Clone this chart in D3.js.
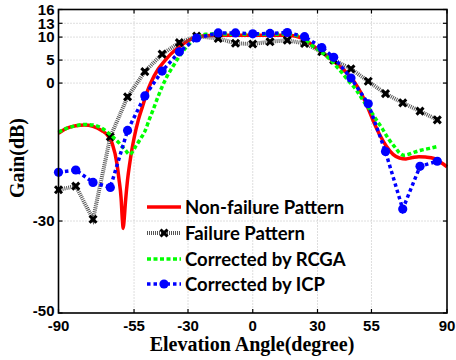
<!DOCTYPE html>
<html><head><meta charset="utf-8">
<script src="https://cdn.jsdelivr.net/npm/d3@7"></script>
<style>body{margin:0;background:#fff}svg{display:block}</style>
</head><body>
<svg id="c" width="456" height="360"></svg>
<script>
const xTicks = [-90,-55,-30,0,30,55,90];
const yTicks = [-50,-30,0,5,10,13,16];

// Non-failure pattern (red)
const redX = [-90,-86,-82,-78,-74,-70,-67,-65,-63,-62,-61,-60.4,-60,-59.6,-59,-58,-57,-56,-55,-53,-51,-49,-47,-44,-41,-38,-34,-30,-26,-22,-16,-10,0,10,16,20,24,28,32,36,40,44,47,50,53,56,59,62,65,68,71,74,77,80,84,87,90];
const redY = [-10.9,-9.8,-9.3,-9.1,-9.4,-10.3,-11.5,-13.3,-17.3,-20.8,-25,-29.8,-31.6,-29.8,-26,-21,-17.5,-14.5,-12,-8,-5,-2,0.3,2.9,4.7,6.3,7.9,9.2,10,10.3,10.4,10.4,10.4,10.4,10.4,10.2,9.5,8.1,6.7,5.3,3.8,2.0,0.3,-2.0,-5.0,-8.4,-11.4,-13.8,-15.5,-16.3,-16.5,-16.2,-16.0,-16.1,-16.4,-17.2,-18.2];

// Shared marker positions (failure / ICP)
const mkX = [-90,-82,-74,-66,-58,-50,-42,-34,-26,-16,-8,0,8,16,24,32,37.5,45.5,53.5,61.5,69.5,77.5,85.5];
// Failure pattern (black)
const failY = [-23.2,-22.4,-29.6,-11.7,-3.0,2.5,6.3,8.8,10.2,9.7,8.65,8.5,9.0,9.3,8.6,6.8,5.0,3.1,0.4,-2.3,-4.3,-6.1,-8.0];
// Corrected by ICP (blue)
const icpY = [-19.4,-18.9,-21.6,-22.7,-10.3,-2.8,2.6,6.8,9.8,10.9,10.9,10.7,10.8,11.0,10.1,7.7,5.6,1.1,-4.5,-14.9,-27.4,-18.1,-17.0];

// Corrected by RCGA (green)
const gaX = [-90,-86,-82,-78,-74,-70,-66,-62,-59,-57,-54,-52,-50,-48,-46,-44,-42,-40,-37,-34,-31,-28,-25,-22,-16,-8,0,8,16,20,24,28,32,36,40,44,48,51,54,57,60,63,66,68,70,72,75,78,82,85.5];
const gaY = [-10.7,-9.8,-9.3,-9.0,-9.1,-9.8,-11.2,-13.0,-14.6,-15.5,-13.6,-12.1,-10.5,-8.0,-5.6,-3.1,-0.8,1.2,3.6,5.8,7.7,9.1,10.1,10.6,10.7,10.6,10.6,10.6,10.7,10.4,9.6,8.0,6.7,5.0,3.0,0.7,-1.5,-3.7,-5.6,-7.8,-9.9,-12.2,-14.0,-15.2,-15.7,-15.5,-15.0,-14.6,-14.2,-13.8];

const legendLabels = ["Non-failure Pattern","Failure Pattern","Corrected by RCGA","Corrected by ICP"];

const svg = d3.select("#c");
const L=58.5, R=447, T=9.5, B=313;
const x = d3.scaleLinear().domain([-90,90]).range([L,R]);
const y = d3.scaleLinear().domain([-50,16]).range([B,T]);

// grid
const g = svg.append("g");
g.selectAll(".gx").data(xTicks.filter(d=>d>-90&&d<90)).join("line")
  .attr("x1",d=>x(d)).attr("x2",d=>x(d)).attr("y1",T).attr("y2",B)
  .attr("stroke","#bdbdbd").attr("stroke-width",1).attr("stroke-dasharray","1,2");
g.selectAll(".gy").data(yTicks.filter(d=>d>-50&&d<16)).join("line")
  .attr("y1",d=>y(d)).attr("y2",d=>y(d)).attr("x1",L).attr("x2",R)
  .attr("stroke","#bdbdbd").attr("stroke-width",1).attr("stroke-dasharray","1,2");

// curves
const smooth = d3.line().x(d=>x(d[0])).y(d=>y(d[1])).curve(d3.curveMonotoneX);
const lin = d3.line().x(d=>x(d[0])).y(d=>y(d[1]));
const redPts = redX.map((v,i)=>[v,redY[i]]);
const failPts = mkX.map((v,i)=>[v,failY[i]]);
const gaPts = gaX.map((v,i)=>[v,gaY[i]]);
const icpPts = mkX.map((v,i)=>[v,icpY[i]]);

const plot = svg.append("g");
plot.append("path").attr("d",smooth(redPts)).attr("fill","none").attr("stroke","#ff0000").attr("stroke-width",3.5);
plot.append("path").attr("d",lin(failPts)).attr("fill","none").attr("stroke","#555").attr("stroke-width",4).attr("stroke-dasharray","1,1");
function xMark(sel){
  sel.append("path").attr("d","M-3.5,-3.5L3.5,3.5M-3.5,3.5L3.5,-3.5M0,-2.5L0,2.5M-2.5,0L2.5,0")
   .attr("stroke","#000").attr("stroke-width",3).attr("fill","none");
}
plot.selectAll(".fm").data(failPts).join("g").attr("transform",d=>`translate(${x(d[0])},${y(d[1])})`).call(xMark);
plot.append("path").attr("d",smooth(gaPts)).attr("fill","none").attr("stroke","#00ff00").attr("stroke-width",3.5).attr("stroke-dasharray","4,2.5");
plot.append("path").attr("d",lin(icpPts)).attr("fill","none").attr("stroke","#0000ff").attr("stroke-width",3.5).attr("stroke-dasharray","3.5,3");
plot.selectAll(".im").data(icpPts).join("circle").attr("cx",d=>x(d[0])).attr("cy",d=>y(d[1])).attr("r",4.6).attr("fill","#0000ff");

// axes box
svg.append("rect").attr("x",L).attr("y",T).attr("width",R-L).attr("height",B-T).attr("fill","none").attr("stroke","#000").attr("stroke-width",1.6);
// ticks inward
const tk = svg.append("g").attr("stroke","#000").attr("stroke-width",1.2);
xTicks.forEach(d=>{ tk.append("line").attr("x1",x(d)).attr("x2",x(d)).attr("y1",B).attr("y2",B-4);
  tk.append("line").attr("x1",x(d)).attr("x2",x(d)).attr("y1",T).attr("y2",T+4);});
yTicks.forEach(d=>{ tk.append("line").attr("y1",y(d)).attr("y2",y(d)).attr("x1",L).attr("x2",L+4);
  tk.append("line").attr("y1",y(d)).attr("y2",y(d)).attr("x1",R).attr("x2",R-4);});

// tick labels
const lab = svg.append("g").attr("font-family","Liberation Sans, Arial, sans-serif").attr("font-weight","bold").attr("font-size",15).attr("fill","#000");
lab.selectAll(".xl").data(xTicks).join("text").attr("x",d=>x(d)).attr("y",B+18).attr("text-anchor","middle").text(d=>d);
lab.selectAll(".yl").data(yTicks).join("text").attr("x",L-4).attr("y",d=>y(d)+(d===-50?-2:0)).attr("dy","0.36em").attr("text-anchor","end").text(d=>d);

// axis titles
svg.append("text").attr("x",252).attr("y",351).attr("text-anchor","middle")
  .attr("font-family","Liberation Serif, Times New Roman, serif").attr("font-weight","bold").attr("font-size",20).text("Elevation Angle(degree)");
svg.append("text").attr("transform","translate(24,158) rotate(-90)").attr("text-anchor","middle")
  .attr("font-family","Liberation Serif, Times New Roman, serif").attr("font-weight","bold").attr("font-size",20).text("Gain(dB)");

// legend
const lg = svg.append("g");
const ly = [207,233,259,284];
const lx1=147, lx2=181;
lg.append("line").attr("x1",lx1).attr("x2",lx2).attr("y1",ly[0]).attr("y2",ly[0]).attr("stroke","#ff0000").attr("stroke-width",3.5);
lg.append("line").attr("x1",lx1).attr("x2",lx2).attr("y1",ly[1]).attr("y2",ly[1]).attr("stroke","#555").attr("stroke-width",4).attr("stroke-dasharray","1,1");
lg.append("g").attr("transform",`translate(${(lx1+lx2)/2},${ly[1]})`).call(xMark);
lg.append("line").attr("x1",lx1).attr("x2",lx2).attr("y1",ly[2]).attr("y2",ly[2]).attr("stroke","#00ff00").attr("stroke-width",3.5).attr("stroke-dasharray","4,2.5");
lg.append("line").attr("x1",lx1).attr("x2",lx2).attr("y1",ly[3]).attr("y2",ly[3]).attr("stroke","#0000ff").attr("stroke-width",3.5).attr("stroke-dasharray","3.5,3");
lg.append("circle").attr("cx",(lx1+lx2)/2).attr("cy",ly[3]).attr("r",4.6).attr("fill","#0000ff");
lg.selectAll(".lt").data(legendLabels).join("text").attr("x",185).attr("y",(d,i)=>ly[i]).attr("dy","0.36em")
  .attr("font-family","Lato, Open Sans, sans-serif").attr("font-weight","bold").attr("font-size",18.5).text(d=>d);
</script>
</body></html>
